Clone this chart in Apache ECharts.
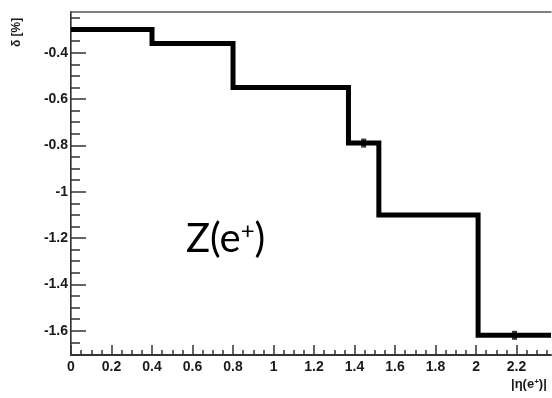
<!DOCTYPE html>
<html>
<head>
<meta charset="utf-8">
<script src="https://cdn.jsdelivr.net/npm/echarts@6/dist/echarts.min.js"></script>
<style>html,body{margin:0;padding:0;background:#fff}#c{width:552px;height:398px}</style>
</head>
<body>
<div id="c"></div>
<script>
// ---- data ----
var binEdges = [0, 0.4, 0.8, 1.37, 1.52, 2.01, 2.37];
var deltaValues = [-0.30, -0.36, -0.55, -0.79, -1.10, -1.62];
var markerEta = [1.445, 2.19];
var markerDelta = [-0.79, -1.62];

var xTickValues = [0, 0.2, 0.4, 0.6, 0.8, 1, 1.2, 1.4, 1.6, 1.8, 2, 2.2];
var xTickLabels = ['0', '0.2', '0.4', '0.6', '0.8', '1', '1.2', '1.4', '1.6', '1.8', '2', '2.2'];
var xMinorTicks = [0.05, 0.1, 0.15, 0.25, 0.3, 0.35, 0.45, 0.5, 0.55, 0.65, 0.7, 0.75, 0.85, 0.9, 0.95,
  1.05, 1.1, 1.15, 1.25, 1.3, 1.35, 1.45, 1.5, 1.55, 1.65, 1.7, 1.75, 1.85, 1.9, 1.95,
  2.05, 2.1, 2.15, 2.25, 2.3, 2.35];
var yTickValues = [-1.6, -1.4, -1.2, -1, -0.8, -0.6, -0.4];
var yTickLabels = ['-1.6', '-1.4', '-1.2', '-1', '-0.8', '-0.6', '-0.4'];
var yMinorTicks = [-1.65, -1.55, -1.5, -1.45, -1.35, -1.3, -1.25, -1.15, -1.1, -1.05,
  -0.95, -0.9, -0.85, -0.75, -0.7, -0.65, -0.55, -0.5, -0.45, -0.35, -0.3, -0.25];
var xMin = 0, xMax = 2.37, yMin = -1.705, yMax = -0.224;

// ---- build ----
var stepData = [];
for (var i = 0; i < deltaValues.length; i++) stepData.push([binEdges[i], deltaValues[i]]);
stepData.push([binEdges[binEdges.length - 1], deltaValues[deltaValues.length - 1]]);
var markerData = markerEta.map(function (e, i) { return [e, markerDelta[i]]; });

function lookup(vals, labels, v) {
  for (var i = 0; i < vals.length; i++) if (Math.abs(vals[i] - v) < 1e-6) return labels[i];
  return '';
}
var axisColor = '#333';
var labelStyle = { color: '#1a1a1a', fontFamily: 'Liberation Sans', fontSize: 14, fontWeight: 'bold' };

var chart = echarts.init(document.getElementById('c'), null, { renderer: 'canvas' });
chart.setOption({
  animation: false,
  backgroundColor: '#fff',
  grid: { left: 71, right: 1, top: 12, bottom: 43, containLabel: false },
  xAxis: [
    { type: 'value', position: 'bottom', min: xMin, max: xMax,
      axisLine: { show: true, lineStyle: { color: axisColor, width: 2 } },
      axisTick: { show: true, inside: true, length: 10, customValues: xTickValues, lineStyle: { color: axisColor, width: 1.5 } },
      axisLabel: Object.assign({ margin: 5, customValues: xTickValues,
        formatter: function (v) { return lookup(xTickValues, xTickLabels, v); } }, labelStyle),
      splitLine: { show: false } },
    { type: 'value', position: 'bottom', min: xMin, max: xMax,
      axisLine: { show: false },
      axisTick: { show: true, inside: true, length: 5, customValues: xMinorTicks, lineStyle: { color: axisColor, width: 1.5 } },
      axisLabel: { show: false }, splitLine: { show: false } },
    { type: 'value', position: 'top', min: xMin, max: xMax,
      axisLine: { show: true, lineStyle: { color: '#555', width: 1.5 } },
      axisTick: { show: false }, axisLabel: { show: false }, splitLine: { show: false } }
  ],
  yAxis: [
    { type: 'value', position: 'left', min: yMin, max: yMax,
      axisLine: { show: true, lineStyle: { color: axisColor, width: 2 } },
      axisTick: { show: true, inside: true, length: 15, customValues: yTickValues, lineStyle: { color: axisColor, width: 1.5 } },
      axisLabel: Object.assign({ margin: 3, customValues: yTickValues,
        formatter: function (v) { return lookup(yTickValues, yTickLabels, v); } }, labelStyle),
      splitLine: { show: false } },
    { type: 'value', position: 'left', min: yMin, max: yMax,
      axisLine: { show: false },
      axisTick: { show: true, inside: true, length: 9, customValues: yMinorTicks, lineStyle: { color: axisColor, width: 1.5 } },
      axisLabel: { show: false }, splitLine: { show: false } },
    { type: 'value', position: 'right', min: yMin, max: yMax,
      axisLine: { show: true, lineStyle: { color: '#e05050', width: 1 } },
      axisTick: { show: false }, axisLabel: { show: false }, splitLine: { show: false } }
  ],
  series: [
    { type: 'line', xAxisIndex: 0, yAxisIndex: 0, step: 'end', data: stepData,
      showSymbol: false, symbol: 'none',
      lineStyle: { color: '#000', width: 5, join: 'miter', cap: 'butt' } },
    { type: 'scatter', xAxisIndex: 0, yAxisIndex: 0, data: markerData,
      symbol: 'rect', symbolSize: [5, 9], itemStyle: { color: '#000' } }
  ],
  graphic: [
    { type: 'text', left: 186, top: 219,
      style: { text: '{b|Z(e}{s|+}{b|)}', fill: '#000',
        rich: { b: { fontFamily: 'Lato', fontSize: 40, fill: '#000' },
                s: { fontFamily: 'Lato', fontSize: 24, fill: '#000', verticalAlign: 'top' } } } },
    { type: 'text', left: 511, top: 378,
      style: { text: '|η(e{s|+})|', fill: '#1a1a1a', font: 'bold 13px "Liberation Sans"',
        rich: { s: { fontFamily: 'Liberation Sans', fontWeight: 'bold', fontSize: 8, fill: '#1a1a1a', verticalAlign: 'top' } } } },
    { type: 'text', x: 11, y: 47, rotation: Math.PI / 2,
      style: { text: 'δ [%]', fill: '#1a1a1a', font: 'bold 12px "Liberation Sans"', textAlign: 'left', textVerticalAlign: 'top' } }
  ]
});
</script>
</body>
</html>
